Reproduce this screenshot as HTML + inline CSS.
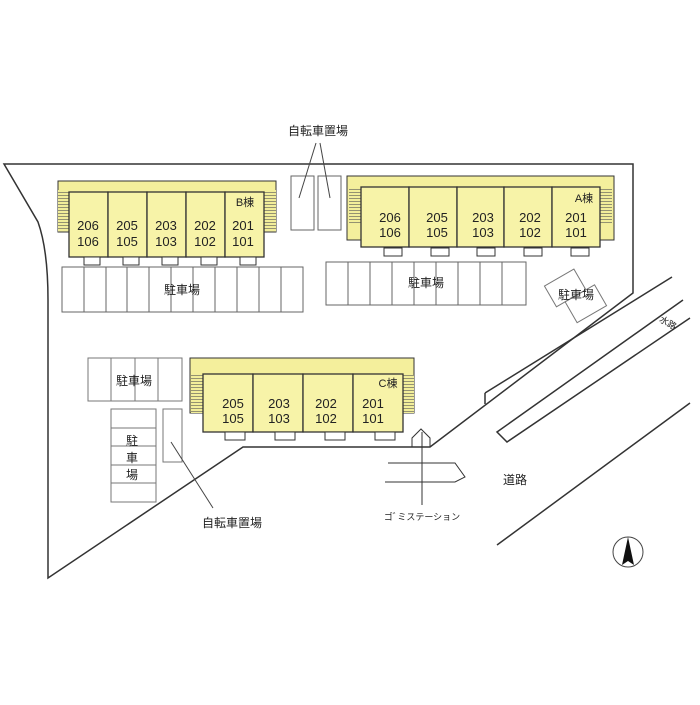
<!DOCTYPE html>
<html><head><meta charset="utf-8"><style>
body{margin:0;background:#fff}
svg text{font-family:"Liberation Sans","Noto Sans CJK JP",sans-serif;fill:#222}
</style></head><body>
<svg width="700" height="700" viewBox="0 0 700 700" xmlns="http://www.w3.org/2000/svg">
<defs>
<pattern id="st" width="4" height="3" patternUnits="userSpaceOnUse"><rect width="4" height="3" fill="#f2ee9a"/><line x1="0" y1="0.5" x2="4" y2="0.5" stroke="#555" stroke-width="0.6"/></pattern>
</defs>
<g fill="none" stroke="#333" stroke-width="1.5">
<!-- boundary -->
<path d="M633,164 L4,164 L38,222 Q48,250 48,300 L48,578 L243,447 L430,447 L633,293 Z" fill="none"/>
<line x1="485" y1="393" x2="672" y2="277"/>
<line x1="485" y1="393" x2="485" y2="404"/>
<path d="M683,300 L497,432 L507,442 L690,318"/>
<line x1="497" y1="545" x2="690" y2="403"/>
</g>
<!-- B building -->
<rect x="58" y="181" width="218" height="51" fill="#f4ef9c" stroke="#333"/>
<rect x="58" y="190" width="11" height="42" fill="url(#st)"/>
<rect x="264" y="190" width="12" height="42" fill="url(#st)"/>
<g stroke="#333" stroke-width="1.3" fill="#f7f3a8">
<rect x="69" y="192" width="39" height="65"/><rect x="108" y="192" width="39" height="65"/><rect x="147" y="192" width="39" height="65"/><rect x="186" y="192" width="39" height="65"/><rect x="225" y="192" width="39" height="65"/>
</g>
<g stroke="#333" fill="#fff"><rect x="84" y="257" width="16" height="8"/><rect x="123" y="257" width="16" height="8"/><rect x="162" y="257" width="16" height="8"/><rect x="201" y="257" width="16" height="8"/><rect x="240" y="257" width="16" height="8"/></g>
<g font-size="13" text-anchor="middle">
<text x="88" y="230">206</text><text x="88" y="246">106</text>
<text x="127" y="230">205</text><text x="127" y="246">105</text>
<text x="166" y="230">203</text><text x="166" y="246">103</text>
<text x="205" y="230">202</text><text x="205" y="246">102</text>
<text x="243" y="230">201</text><text x="243" y="246">101</text>
<text x="245" y="206" font-size="11">B棟</text>
</g>
<!-- B parking -->
<g stroke="#666" fill="none"><rect x="62" y="267" width="241" height="45"/>
<path d="M84,267V312M106,267V312M127,267V312M149,267V312M171,267V312M193,267V312M215,267V312M237,267V312M259,267V312M281,267V312"/></g>
<text x="182" y="294" font-size="12" text-anchor="middle">駐車場</text>
<!-- bike racks top -->
<g stroke="#666" fill="none"><rect x="291" y="176" width="23" height="54"/><rect x="318" y="176" width="23" height="54"/></g>
<text x="318" y="135" font-size="12" text-anchor="middle">自転車置場</text>
<g stroke="#444"><line x1="316" y1="143" x2="299" y2="198"/><line x1="320" y1="143" x2="330" y2="198"/></g>
<!-- A building -->
<rect x="347" y="176" width="267" height="64" fill="#f4ef9c" stroke="#333"/>
<rect x="349" y="188" width="12" height="36" fill="url(#st)"/>
<rect x="600" y="188" width="12" height="36" fill="url(#st)"/>
<g stroke="#333" stroke-width="1.3" fill="#f7f3a8">
<rect x="361" y="187" width="48" height="60"/><rect x="409" y="187" width="48" height="60"/><rect x="457" y="187" width="47" height="60"/><rect x="504" y="187" width="48" height="60"/><rect x="552" y="187" width="48" height="60"/>
</g>
<g stroke="#333" fill="#fff"><rect x="384" y="248" width="18" height="8"/><rect x="431" y="248" width="18" height="8"/><rect x="477" y="248" width="18" height="8"/><rect x="524" y="248" width="18" height="8"/><rect x="571" y="248" width="18" height="8"/></g>
<g font-size="13" text-anchor="middle">
<text x="390" y="222">206</text><text x="390" y="237">106</text>
<text x="437" y="222">205</text><text x="437" y="237">105</text>
<text x="483" y="222">203</text><text x="483" y="237">103</text>
<text x="530" y="222">202</text><text x="530" y="237">102</text>
<text x="576" y="222">201</text><text x="576" y="237">101</text>
<text x="584" y="202" font-size="11">A棟</text>
</g>
<!-- A parking -->
<g stroke="#666" fill="none"><rect x="326" y="262" width="200" height="43"/>
<path d="M348,262V305M370,262V305M392,262V305M414,262V305M436,262V305M458,262V305M480,262V305M502,262V305"/></g>
<text x="426" y="287" font-size="12" text-anchor="middle">駐車場</text>
<!-- rotated parking -->
<g stroke="#777" fill="none" transform="rotate(-30 575 295)"><rect x="553" y="272" width="34" height="24"/><rect x="563" y="296" width="34" height="24"/></g>
<text x="576" y="299" font-size="12" text-anchor="middle">駐車場</text>
<text x="668" y="326" font-size="9" text-anchor="middle" transform="rotate(30 668 323)">水路</text>
<!-- C building -->
<rect x="190" y="358" width="224" height="55" fill="#f4ef9c" stroke="#333"/>
<rect x="191" y="375" width="12" height="38" fill="url(#st)"/>
<rect x="403" y="375" width="11" height="38" fill="url(#st)"/>
<g stroke="#333" stroke-width="1.3" fill="#f7f3a8">
<rect x="203" y="374" width="50" height="58"/><rect x="253" y="374" width="50" height="58"/><rect x="303" y="374" width="50" height="58"/><rect x="353" y="374" width="50" height="58"/>
</g>
<g stroke="#333" fill="#fff"><rect x="225" y="432" width="20" height="8"/><rect x="275" y="432" width="20" height="8"/><rect x="325" y="432" width="20" height="8"/><rect x="375" y="432" width="20" height="8"/></g>
<g font-size="13" text-anchor="middle">
<text x="233" y="408">205</text><text x="233" y="423">105</text>
<text x="279" y="408">203</text><text x="279" y="423">103</text>
<text x="326" y="408">202</text><text x="326" y="423">102</text>
<text x="373" y="408">201</text><text x="373" y="423">101</text>
<text x="388" y="387" font-size="11">C棟</text>
</g>
<!-- left parkings -->
<g stroke="#777" fill="none"><rect x="88" y="358" width="94" height="43"/><path d="M111,358V401M135,358V401M158,358V401"/>
<rect x="111" y="409" width="45" height="93"/><path d="M111,428H156M111,446H156M111,465H156M111,483H156"/>
<rect x="163" y="409" width="19" height="53"/></g>
<text x="134" y="385" font-size="12" text-anchor="middle">駐車場</text>
<g font-size="12" text-anchor="middle"><text x="132" y="445">駐</text><text x="132" y="462">車</text><text x="132" y="479">場</text></g>
<line x1="171" y1="442" x2="213" y2="508" stroke="#444"/>
<text x="232" y="527" font-size="12" text-anchor="middle">自転車置場</text>
<!-- gomi station -->
<g stroke="#333" fill="none"><path d="M412,447V438L421,429L430,438V447"/>
<line x1="422" y1="432" x2="422" y2="505"/>
<path d="M388,463H455L465,477L455,482H385"/></g>
<text x="422" y="520" font-size="9" text-anchor="middle">ゴﾞミステーション</text>
<text x="515" y="484" font-size="12" text-anchor="middle">道路</text>
<!-- north -->
<circle cx="628" cy="552" r="15" fill="none" stroke="#444"/>
<path d="M628,537 L622,565 L628,561 L634,565 Z" fill="#111"/>
</svg>
</body></html>
